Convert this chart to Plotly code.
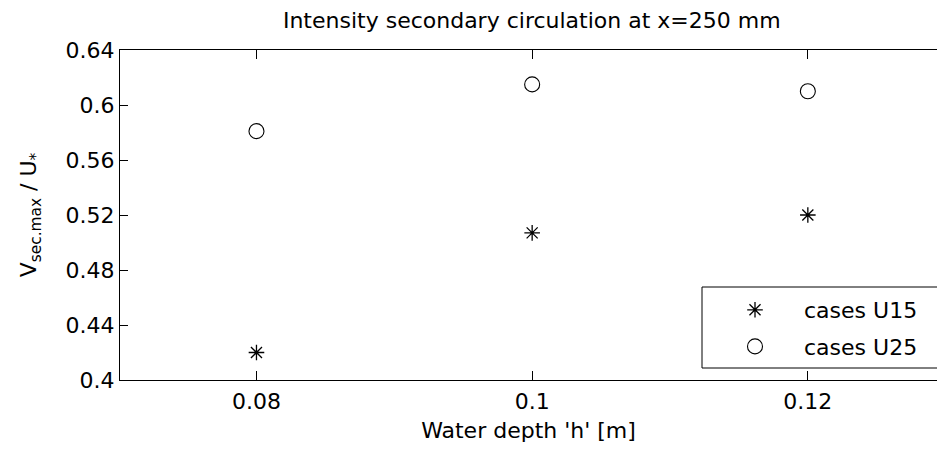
import plotly.graph_objects as go

# ---- data ----
depth = [0.08, 0.10, 0.12]
u15 = [0.420, 0.507, 0.520]
u25 = [0.581, 0.615, 0.610]
series_names = ["cases U15", "cases U25"]

x_ticks = [0.08, 0.10, 0.12]
x_tick_text = ["0.08", "0.1", "0.12"]
y_ticks = [0.40, 0.44, 0.48, 0.52, 0.56, 0.60, 0.64]
y_tick_text = ["0.4", "0.44", "0.48", "0.52", "0.56", "0.6", "0.64"]

title_text = "Intensity secondary circulation at x=250 mm"
x_title = "Water depth 'h' [m]"
y_title = "V<sub>sec.max</sub> / U<sub>*</sub>"

FONT = "DejaVu Sans"
FS = 22

fig = go.Figure()
fig.add_trace(go.Scatter(
    x=depth, y=u15, mode="markers", name=series_names[0], legendgroup="a",
    marker=dict(symbol="asterisk-open", size=13, color="black",
                line=dict(color="black", width=1.3)),
))
fig.add_trace(go.Scatter(
    x=depth, y=u25, mode="markers", name=series_names[1], legendgroup="b",
    marker=dict(symbol="circle-open", size=15, color="black",
                line=dict(color="black", width=1.1)),
))

axis_common = dict(
    showgrid=False, zeroline=False, showline=True, linecolor="black",
    linewidth=1, ticks="inside", tickcolor="black", tickwidth=1,
    tickfont=dict(family=FONT, size=FS, color="black"),
)

fig.update_layout(
    width=937, height=450, autosize=False,
    margin=dict(l=120, r=0, t=50, b=70, pad=0),
    plot_bgcolor="white", paper_bgcolor="white",
    font=dict(family=FONT, size=FS, color="black"),
    title=dict(text=title_text, x=0.504, xref="paper", xanchor="center",
               y=1 - 20 / 450, yref="container", yanchor="middle",
               font=dict(family=FONT, size=FS, color="black")),
    xaxis=dict(
        range=[0.0701, 0.12937], tickvals=x_ticks, ticktext=x_tick_text,
        ticklen=9, mirror="ticks", ticklabelstandoff=2,
        title=dict(text=x_title, standoff=9,
                   font=dict(family=FONT, size=FS, color="black")),
        **axis_common,
    ),
    yaxis=dict(
        range=[0.40, 0.64], tickvals=y_ticks, ticktext=y_tick_text,
        ticklen=8, mirror=False,
        title=dict(text=y_title, standoff=22,
                   font=dict(family=FONT, size=FS, color="black")),
        **axis_common,
    ),
    showlegend=True,
    legend=dict(
        x=(706 - 120) / 817, y=(380 - 289) / 330, xanchor="left", yanchor="top",
        xref="paper", yref="paper",
        bgcolor="rgba(0,0,0,0)", borderwidth=0,
        font=dict(family=FONT, size=FS, color="black"),
        traceorder="grouped", tracegroupgap=5, itemwidth=88,
    ),
    shapes=[dict(
        type="rect", xref="paper", yref="paper",
        x0=(702 - 120) / 817, x1=1.05,
        y0=(380 - 368) / 330, y1=(380 - 287) / 330,
        line=dict(color="black", width=1), fillcolor="rgba(0,0,0,0)",
        layer="above",
    )],
)

fig.write_html("out.html")
